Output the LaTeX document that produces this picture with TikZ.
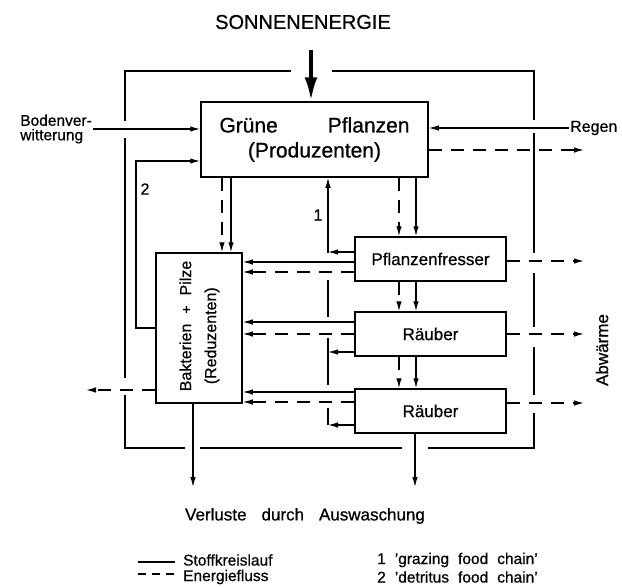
\documentclass[tikz,border=0pt]{standalone}
\usepackage{fontspec}
\setmainfont{Liberation Sans}[FakeBold=0.7]
\usetikzlibrary{arrows.meta}

\begin{document}
\begin{tikzpicture}[x=1pt,y=-1pt,
  box/.style={draw, line width=1.5pt, inner sep=0pt, font=\fontsize{17}{17}\selectfont},
  txt/.style={inner sep=1pt, font=\fontsize{17}{17}\selectfont},
  stoff/.style={line width=1.2pt, -{Latex[length=10pt,width=5.5pt]}},
  energie/.style={stoff, dash pattern=on 13pt off 9pt},
  rahmen/.style={line width=2.2pt}]
\useasboundingbox (0,0) rectangle (622,587);

\node[txt, font=\fontsize{20}{20}\selectfont] (sonne) at (303,22) {SONNENENERGIE};
\node[box, minimum width=227pt, minimum height=75pt, align=center, font=\fontsize{21}{25}\selectfont] (gruen) at (314.5,139.5) {Grüne\hspace{50pt}Pflanzen\\(Produzenten)};
\node[box, minimum width=151pt, minimum height=44pt] (pfl) at (430.5,259) {Pflanzenfresser\hspace{14pt}};
\node[box, minimum width=151pt, minimum height=44pt] (raeuberA) at (430.5,334) {Räuber\hspace{30pt}};
\node[box, minimum width=151pt, minimum height=44pt] (raeuberB) at (430.5,411) {Räuber\hspace{30pt}};
\node[box, minimum width=86pt, minimum height=150pt] (bakt) at (199,328) {};
\node[txt, rotate=90, align=left, font=\fontsize{16}{25}\selectfont] (baktText) at (199.5,326) {Bakterien\hspace{10pt}{\fontsize{14}{14}\selectfont+}\hspace{10pt}Pilze\\\hspace*{7pt}(Reduzenten)};

\node[txt, anchor=east, align=left, font=\fontsize{15.5}{14.5}\selectfont] (boden) at (93,129) {Bodenver-\\witterung};
\node[txt, anchor=west, font=\fontsize{16}{16}\selectfont] (regen) at (569,128) {Regen};
\node[txt, rotate=90] (abw) at (602,350) {Abwärme};
\node[txt, font=\fontsize{16}{16}\selectfont] (eins) at (318,215) {1};
\node[txt, font=\fontsize{16}{16}\selectfont] (zwei) at (145,189) {2};
\node[txt] (verluste) at (305,516) {Verluste\hspace{15pt}durch\hspace{15pt}Auswaschung};
\node[txt, anchor=west, inner sep=0pt, font=\fontsize{15.5}{15.5}\selectfont] (lgStoff) at (183,560) {Stoffkreislauf};
\node[txt, anchor=west, inner sep=0pt, font=\fontsize{15.5}{15.5}\selectfont] (lgEnergie) at (183,577) {Energiefluss};
\node[txt, anchor=west, inner sep=0pt, font=\fontsize{15.5}{15.5}\selectfont] (lgEins) at (377,560) {1\hspace{9pt}'grazing\hspace{9pt}food\hspace{9pt}chain'};
\node[txt, anchor=west, inner sep=0pt, font=\fontsize{15.5}{15.5}\selectfont] (lgZwei) at (377,577) {2\hspace{9pt}'detritus\hspace{9pt}food\hspace{9pt}chain'};

\coordinate (sun) at (311,50);
\coordinate (xw) at (584,0);
\coordinate (xl) at (86,0);
\coordinate (yl) at (0,487);
\coordinate (k1) at (328,425);
\coordinate (k2) at (136,161);
\coordinate (lgA) at (138,562);
\coordinate (lgB) at (138,574);

\draw[rahmen] (291,71) -- (125,71) -- (125,121) (125,138) -- (125,378) (125,395) -- (125,448) -- (185,448)
  (200,448) -- (402,448) (428,448) -- (534,448) -- (534,413) (534,395) -- (534,347) (534,327) -- (534,273)
  (534,253) -- (534,133) (534,120) -- (534,71) -- (332,71);

\draw[line width=4pt, -{Latex[length=24pt,width=13pt]}] (sun) -- (sun |- gruen.north);
\draw[stoff] (boden.east) -- (boden.east -| gruen.west);
\draw[stoff] (regen.west) -- (regen.west -| gruen.east);
\draw[energie] ([yshift=-10.5pt]gruen.east) -- ([yshift=-10.5pt]gruen.east -| xw);
\draw[stoff] (bakt.west) -| (k2) -- (k2 -| gruen.west);

\draw[energie] ([xshift=23pt]bakt.north |- gruen.south) -- ([xshift=23pt]bakt.north);
\draw[stoff] ([xshift=32pt]bakt.north |- gruen.south) -- ([xshift=32pt]bakt.north);
\draw[energie] ([xshift=-31.5pt]pfl.north |- gruen.south) -- ([xshift=-31.5pt]pfl.north);
\draw[stoff] ([xshift=-14.5pt]pfl.north |- gruen.south) -- ([xshift=-14.5pt]pfl.north);
\draw[energie] ([xshift=-31.5pt]raeuberA.north |- pfl.south) -- ([xshift=-31.5pt]raeuberA.north);
\draw[stoff] ([xshift=-14.5pt]raeuberA.north |- pfl.south) -- ([xshift=-14.5pt]raeuberA.north);
\draw[energie] ([xshift=-31.5pt]raeuberB.north |- raeuberA.south) -- ([xshift=-31.5pt]raeuberB.north);
\draw[stoff] ([xshift=-14.5pt]raeuberB.north |- raeuberA.south) -- ([xshift=-14.5pt]raeuberB.north);

\draw[energie] ([yshift=-2pt]pfl.east) -- ([yshift=-2pt]pfl.east -| xw);
\draw[energie] (raeuberA.east) -- (raeuberA.east -| xw);
\draw[energie] ([yshift=8pt]raeuberB.east) -- ([yshift=8pt]raeuberB.east -| xw);

\draw[stoff] ([yshift=-3pt]pfl.west) -- ([yshift=-3pt]pfl.west -| bakt.east);
\draw[energie] ([yshift=-13pt]pfl.west) -- ([yshift=-13pt]pfl.west -| bakt.east);
\draw[stoff] ([yshift=7pt]pfl.west) -- ([yshift=7pt]pfl.west -| k1);
\draw[stoff] ([yshift=12pt]raeuberA.west) -- ([yshift=12pt]raeuberA.west -| bakt.east);
\draw[energie] (raeuberA.west) -- (raeuberA.west -| bakt.east);
\draw[stoff] ([yshift=-18pt]raeuberA.west) -- ([yshift=-18pt]raeuberA.west -| k1);
\draw[stoff] ([yshift=19pt]raeuberB.west) -- ([yshift=19pt]raeuberB.west -| bakt.east);
\draw[energie] ([yshift=9pt]raeuberB.west) -- ([yshift=9pt]raeuberB.west -| bakt.east);
\draw[stoff] (raeuberB.west |- k1) -- (k1);
\draw[stoff] (k1) -- (328,408) (328,385) -- (328,338) (328,317) -- (328,280) (328,253) -- (k1 |- gruen.south);

\draw[energie] ([yshift=-62pt]bakt.west) -- ([yshift=-62pt]bakt.west -| xl);
\draw[stoff] ([xshift=-6pt]bakt.south) -- ([xshift=-6pt]bakt.south |- yl);
\draw[stoff] ([xshift=-15.5pt]raeuberB.south) -- ([xshift=-15.5pt]raeuberB.south |- yl);

\draw[line width=1.2pt, shorten >=8pt] (lgA) -- (lgA -| lgStoff.west);
\draw[line width=1.2pt, dash pattern=on 8pt off 6pt, shorten >=8pt] (lgB) -- (lgB -| lgEnergie.west);
\end{tikzpicture}
\end{document}
